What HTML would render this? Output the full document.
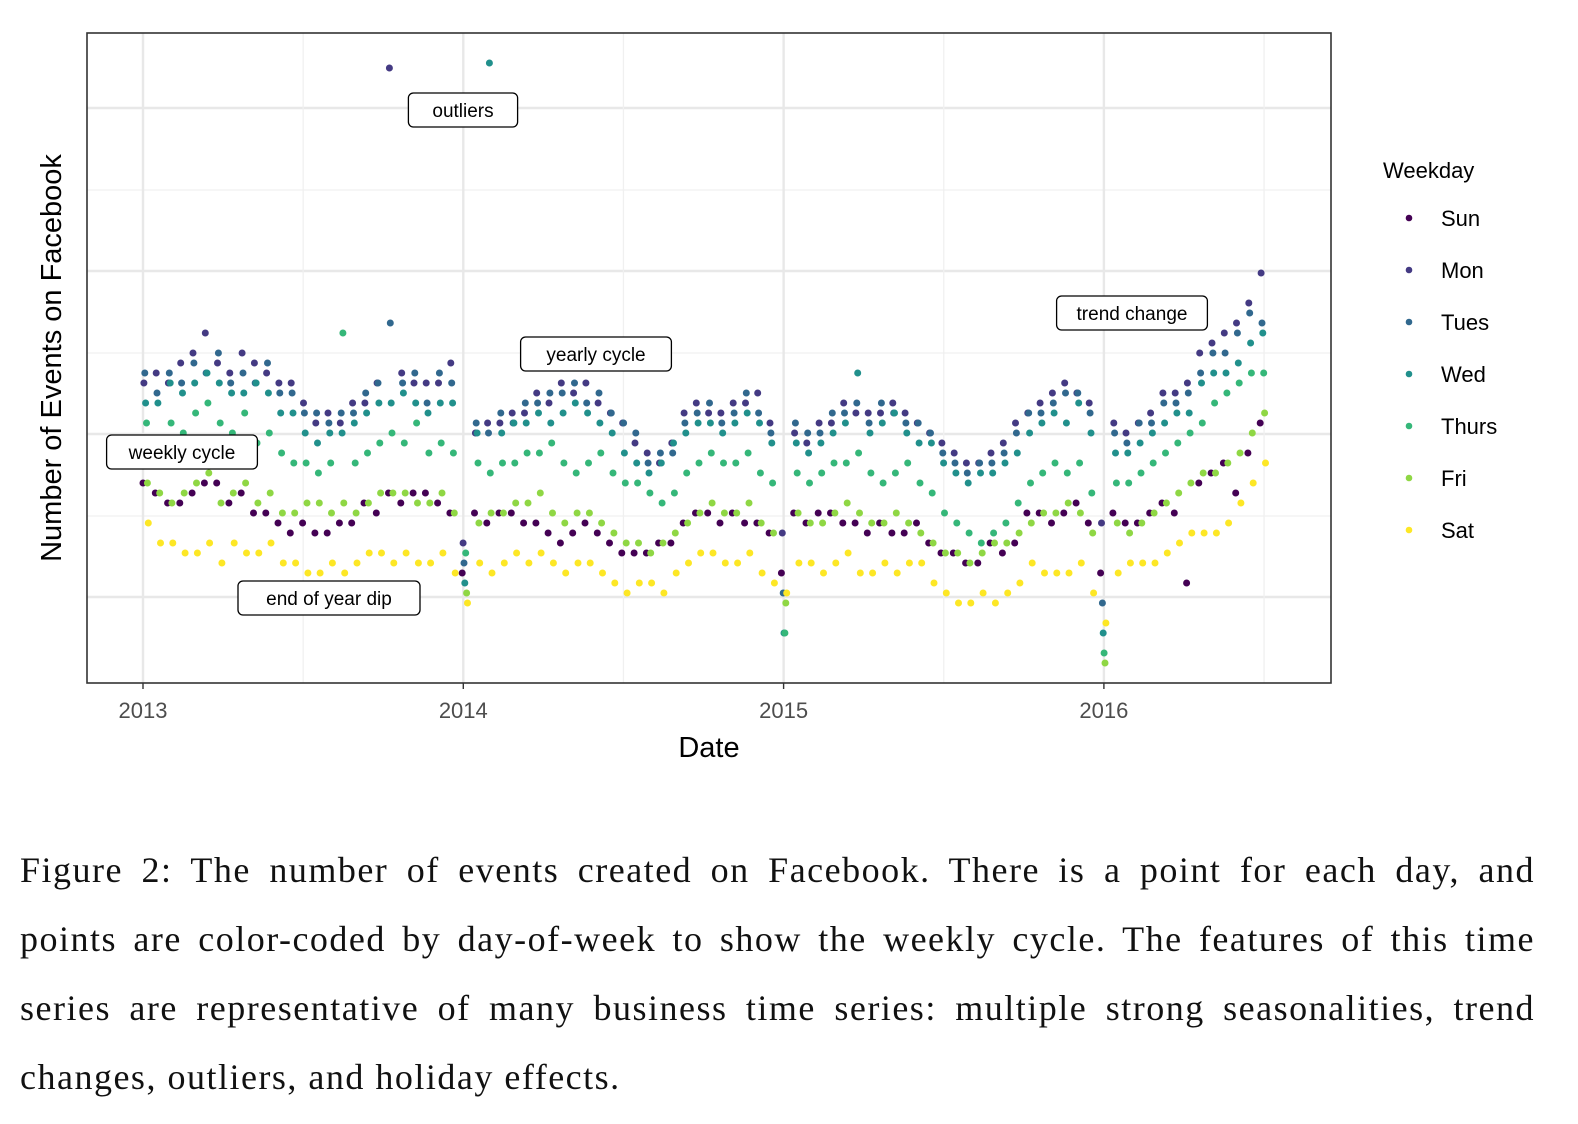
<!DOCTYPE html>
<html><head><meta charset="utf-8"><style>
body{margin:0;background:#fff;width:1578px;height:1124px;overflow:hidden;position:relative;font-family:"Liberation Sans",sans-serif}
#cap{position:absolute;left:20px;top:836px;width:1515px;font-family:"Liberation Serif",serif;font-size:36px;line-height:69px;color:#111;letter-spacing:1.5px}
#cap div{text-align:justify;text-align-last:justify;white-space:nowrap}
#cap div.last{text-align-last:left}
</style></head><body>
<svg id="chart" width="1578" height="820" style="position:absolute;left:0;top:0" font-family="Liberation Sans, sans-serif">
<g id="grid"></g>
<g id="pts"></g>
<rect x="87" y="33" width="1244" height="650" fill="none" stroke="#333" stroke-width="1.6"/>
<g id="ticks"></g>
<text x="709" y="757" font-size="29" text-anchor="middle" fill="#000">Date</text>
<text transform="translate(61,358) rotate(-90)" font-size="29" text-anchor="middle" fill="#000">Number of Events on Facebook</text>
<g id="ann"></g>
<g id="legend">
<text x="1383" y="178" font-size="22" fill="#000">Weekday</text>
</g>
</svg>
<div id="cap"><div style="word-spacing:0">Figure 2: The number of events created on Facebook. There is a point for each day, and</div><div>points are color-coded by day-of-week to show the weekly cycle. The features of this time</div><div>series are representative of many business time series: multiple strong seasonalities, trend</div><div class="last">changes, outliers, and holiday effects.</div></div>
<script>
const weekdays=["Sun","Mon","Tues","Wed","Thurs","Fri","Sat"];
const colors=["#440154","#443A83","#31688E","#21908C","#35B779","#8FD744","#FDE725"];
const yearTicks=[2013,2014,2015,2016];
const sun=[20,19,18,18,19,20,20,18,19,17,17,16,15,16,15,15,16,16,18,17,19,18,19,19,18,17,11,17,16,17,17,16,16,15,14,15,16,15,14,13,13,13,14,14,16,17,17,16,17,16,16,15,11,17,16,17,17,16,16,15,16,15,15,16,14,13,13,12,12,14,13,14,17,17,16,17,18,16,11,17,16,16,17,18,17,10,20,21,22,19,23,26];
const mon=[30,31,30,32,33,35,32,31,33,32,31,30,30,28,26,27,26,28,28,30,61.5,31,30,30,30,32,14,25,26,26,27,27,29,28,30,29,30,28,27,26,24,23,22,24,27,28,27,27,28,28,29,26,15,25,24,26,26,28,27,27,27,28,27,26,25,24,23,22,22,23,24,26,27,28,29,30,29,28,16,26,25,26,27,29,29,30,33,34,35,36,38,41];
const tues=[31,29,31,30,32,31,33,30,31,30,32,29,29,27,27,26,27,27,29,30,36,30,31,28,31,30,12,26,25,27,26,28,28,29,29,30,28,29,27,26,25,22,23,23,26,27,28,26,27,29,27,25,9,26,25,25,27,27,28,26,28,27,26,26,25,23,22,21,22,22,23,25,27,27,28,29,29,27,8,25,24,26,26,28,28,29,31,33,33,35,37,36];
const wed=[28,28,30,29,30,31,30,29,29,30,29,27,27,25,24,25,25,26,27,28,28,29,28,27,28,28,10,25,62,25,26,26,27,26,27,28,27,26,25,23,22,21,22,24,25,26,26,25,26,27,26,24,5,24,23,24,25,26,31,25,26,27,25,24,24,22,21,20,21,21,22,23,25,26,27,26,28,25,5,23,23,24,25,26,27,27,30,31,31,32,34,35];
const thurs=[26,24,26,25,27,28,26,25,27,24,25,23,22,22,21,22,35,22,23,24,25,24,26,23,24,23,13,22,21,22,22,23,23,24,22,21,22,23,21,20,20,19,18,19,21,22,23,22,22,23,21,20,5,21,20,21,22,22,23,21,20,21,22,20,19,17,16,15,14,15,16,18,20,21,22,21,22,19,3,20,20,21,22,23,24,25,26,28,29,30,31,31];
const fri=[20,19,18,19,20,21,18,19,20,18,19,17,17,18,18,17,18,17,18,19,19,19,18,18,19,17,9,16,17,17,18,18,19,17,16,17,17,16,15,14,14,13,14,15,16,17,18,17,17,18,16,15,8,17,16,16,17,18,17,16,16,17,16,15,14,13,13,12,13,14,14,15,16,17,17,18,17,15,2,16,15,16,17,18,19,20,21,21,22,23,25,27];
const sat=[16,14,14,13,13,14,12,14,13,13,14,12,12,11,11,12,11,12,13,13,12,13,12,12,13,11,8,12,11,12,13,12,13,12,11,12,12,11,10,9,10,10,9,11,12,13,13,12,12,13,11,10,9,12,12,11,12,13,11,11,12,11,12,12,10,9,8,8,9,8,9,10,12,11,11,11,12,9,6,11,12,12,12,13,14,15,15,15,16,18,20,22];
const series=[sun,mon,tues,wed,thurs,fri,sat];
const NS="http://www.w3.org/2000/svg";
const xs=t=>143+(t-2013)*320.3;
const ys=v=>683-v*10;
function mk(tag,parent,attrs){const e=document.createElementNS(NS,tag);for(const k in attrs)e.setAttribute(k,attrs[k]);parent.appendChild(e);return e;}
const grid=document.getElementById('grid');
[190,353,516].forEach(y=>{const l=mk('line',grid,{x1:87,x2:1331,y1:y,y2:y,stroke:'#f0f0f0','stroke-width':1.3});

});
[108,271,434,597].forEach(y=>{const l=mk('line',grid,{x1:87,x2:1331,y1:y,y2:y,stroke:'#e8e8e8','stroke-width':2.4});

});
yearTicks.forEach(yr=>{const x=xs(yr+0.5);const l=mk('line',grid,{x1:x,x2:x,y1:33,y2:683,stroke:'#f0f0f0','stroke-width':1.3});

});
const tk=document.getElementById('ticks');
yearTicks.forEach(yr=>{const x=xs(yr);const l=mk('line',grid,{x1:x,x2:x,y1:33,y2:683,stroke:'#e8e8e8','stroke-width':2.4});


const t=mk('line',tk,{x1:x,x2:x,y1:683,y2:689,stroke:'#333','stroke-width':1.4});


const lb=mk('text',tk,{x:x,y:718,'font-size':22,'text-anchor':'middle',fill:'#4d4d4d'});lb.textContent=yr;

});
const pts=document.getElementById('pts');
series.forEach((arr,d)=>{arr.forEach((v,i)=>{const t=2013+(i*14+d)/365.25;
const c=mk('circle',pts,{cx:xs(t).toFixed(1),cy:ys(v).toFixed(1),r:3.5,fill:colors[d]});

});});
const ann=document.getElementById('ann');
[["outliers",463,110],["yearly cycle",596,354],["weekly cycle",182,452],["end of year dip",329,598],["trend change",1132,313]].forEach(a=>{
const w=a[0].length*10.4+26;const g=mk('g',ann,{});


mk('rect',g,{x:a[1]-w/2,y:a[2]-17,width:w,height:34,rx:5,fill:'#fff',stroke:'#000','stroke-width':1.3});
const t=mk('text',g,{x:a[1],y:a[2]+7,'font-size':19,'text-anchor':'middle',fill:'#000'});t.textContent=a[0];});
const lg=document.getElementById('legend');
weekdays.forEach((n,i)=>{const y=218+i*52;const g=mk('g',lg,{});


mk('circle',g,{cx:1409,cy:y,r:3.3,fill:colors[i]});
const t=mk('text',g,{x:1441,y:y+8,'font-size':22,fill:'#000'});t.textContent=n;});
</script>
</body></html>
